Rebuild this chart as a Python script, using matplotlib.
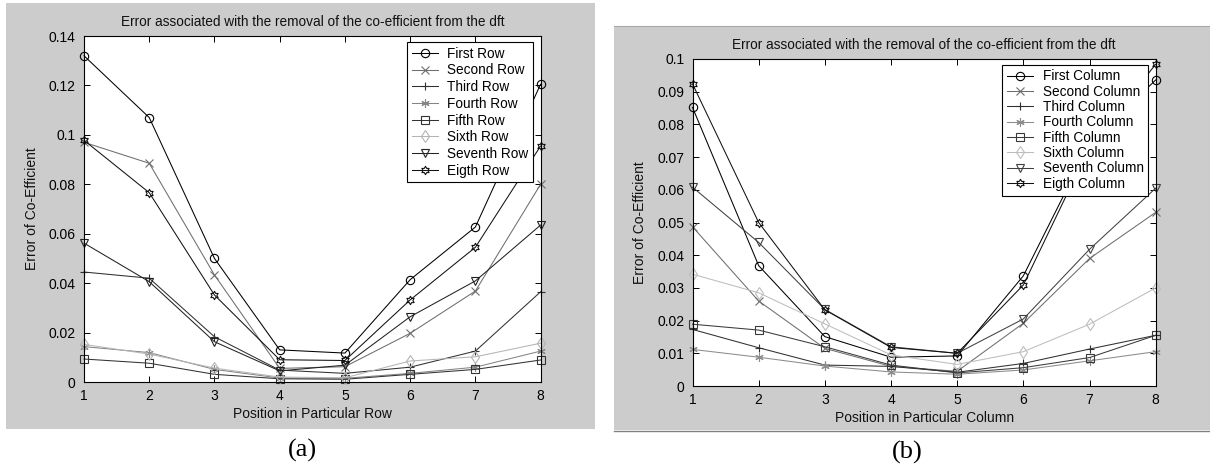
import numpy as np
import matplotlib
matplotlib.use('Agg')
import matplotlib.pyplot as plt
from matplotlib.patches import Rectangle
from matplotlib.lines import Line2D
from matplotlib.path import Path

positions = [1, 2, 3, 4, 5, 6, 7, 8]

# (a) rows
row_labels = ['First Row', 'Second Row', 'Third Row', 'Fourth Row',
              'Fifth Row', 'Sixth Row', 'Seventh Row', 'Eigth Row']
first_row = [0.132, 0.107, 0.050, 0.0130, 0.0117, 0.0414, 0.0627, 0.1205]
second_row = [0.0970, 0.0885, 0.0433, 0.0055, 0.0062, 0.0197, 0.0368, 0.0800]
third_row = [0.0445, 0.0420, 0.0183, 0.0048, 0.0035, 0.0060, 0.0125, 0.0365]
fourth_row = [0.0143, 0.0119, 0.0051, 0.0016, 0.0015, 0.0035, 0.0060, 0.0125]
fifth_row = [0.0093, 0.0076, 0.0031, 0.0013, 0.0011, 0.0031, 0.0051, 0.0089]
sixth_row = [0.0152, 0.0113, 0.0056, 0.0020, 0.0017, 0.0085, 0.0102, 0.0157]
seventh_row = [0.0562, 0.0406, 0.0163, 0.0045, 0.0068, 0.0264, 0.0409, 0.0635]
eighth_row = [0.0978, 0.0766, 0.0352, 0.0090, 0.0087, 0.0332, 0.0545, 0.0955]
rows = [first_row, second_row, third_row, fourth_row,
        fifth_row, sixth_row, seventh_row, eighth_row]

# (b) columns
col_labels = ['First Column', 'Second Column', 'Third Column', 'Fourth Column',
              'Fifth Column', 'Sixth Column', 'Seventh Column', 'Eigth Column']
first_col = [0.0852, 0.0368, 0.0151, 0.0088, 0.0092, 0.0337, 0.0740, 0.0936]
second_col = [0.0487, 0.0260, 0.0115, 0.0060, 0.0045, 0.0192, 0.0390, 0.0531]
third_col = [0.0173, 0.0117, 0.0064, 0.0060, 0.0042, 0.0069, 0.0113, 0.0155]
fourth_col = [0.0112, 0.0088, 0.0061, 0.0043, 0.0036, 0.0049, 0.0077, 0.0105]
fifth_col = [0.0189, 0.0171, 0.0120, 0.0064, 0.0040, 0.0056, 0.0087, 0.0155]
sixth_col = [0.0342, 0.0285, 0.0190, 0.0095, 0.0066, 0.0105, 0.0189, 0.0300]
seventh_col = [0.0608, 0.0439, 0.0234, 0.0120, 0.0100, 0.0205, 0.0418, 0.0605]
eighth_col = [0.0924, 0.0500, 0.0233, 0.0118, 0.0100, 0.0309, 0.0730, 0.0984]
cols = [first_col, second_col, third_col, fourth_col,
        fifth_col, sixth_col, seventh_col, eighth_col]

hexagram = Path.unit_regular_star(6, 0.577)
markers = ['o', 'x', '+', (6, 2, 0), 's', 'd', 'v', hexagram]
colors_a = ['#000000', '#6e6e6e', '#303030', '#858585',
            '#333333', '#b4b4b4', '#222222', '#111111']
colors_b = ['#000000', '#6e6e6e', '#303030', '#8c8c8c',
            '#3a3a3a', '#bdbdbd', '#404040', '#111111']

plt.rcParams['font.family'] = ['Liberation Sans', 'DejaVu Sans']

W, H = 1210, 470
fig = plt.figure(figsize=(12.1, 4.7), dpi=100)
fig.patch.set_facecolor('white')

# gray figure panels
fig.patches.append(Rectangle((6/W, 1 - 429/H), 589/W, 426/H,
                             transform=fig.transFigure, facecolor='#cccccc',
                             edgecolor='none', zorder=-10))
fig.patches.append(Rectangle((614/W, 1 - 430/H), 596/W, 404/H,
                             transform=fig.transFigure, facecolor='#cccccc',
                             edgecolor='none', zorder=-10))
fig.lines.append(Line2D([614/W, 1], [1 - 26/H, 1 - 26/H], transform=fig.transFigure,
                        color='#a8a8a8', lw=0.8))
fig.lines.append(Line2D([614/W, 1], [1 - 430.5/H, 1 - 430.5/H], transform=fig.transFigure,
                        color='#808080', lw=1.0))

ax_a = fig.add_axes([84/W, 1 - 382/H, 456.6/W, 346/H])
ax_b = fig.add_axes([692.5/W, 1 - 386/H, 463.2/W, 327/H])


def draw(ax, data, labels, colors, ymax, ystep, xlabel, title, spacing):
    for vals, lab, m, c in zip(data, labels, markers, colors):
        ax.plot(positions, vals, color=c, marker=m, mfc='none', mec=c,
                ms=6, lw=0.75, mew=0.8, label=lab, clip_on=False)
    ax.set_xlim(1, 8)
    ax.set_ylim(0, ymax)
    ax.set_xticks(positions)
    yt = np.round(np.arange(0, ymax + ystep / 2, ystep), 4)
    ax.set_yticks(yt, labels=[f'{t:g}' for t in yt])
    ax.tick_params(direction='in', top=True, right=True, length=4,
                   width=0.7, labelsize=10, pad=5, colors='black')
    ax.tick_params(axis='y', pad=6)
    for s in ax.spines.values():
        s.set_linewidth(0.8)
    ax.set_xlabel(xlabel, fontsize=10, labelpad=3, color='#111111')
    ax.set_ylabel('Error of Co-Efficient', fontsize=10, labelpad=7,
                  color='#111111')
    ax.set_title(title, fontsize=9.8, pad=7, color='#111111')
    leg = ax.legend(loc='upper right', bbox_to_anchor=(0.984, 0.983),
                    borderaxespad=0, fontsize=9.8, handlelength=1.9,
                    handletextpad=0.7, labelspacing=spacing, borderpad=0.35,
                    fancybox=False, framealpha=1, edgecolor='black')
    leg.get_frame().set_linewidth(0.8)


title = 'Error associated with the removal of the co-efficient from the dft'
draw(ax_a, rows, row_labels, colors_a, 0.14, 0.02,
     'Position in Particular Row', title, 0.2)
draw(ax_b, cols, col_labels, colors_b, 0.1, 0.01,
     'Position in Particular Column', title, 0.1)

fig.text(302/W, 1 - 450/H, '(a)', ha='center', va='center',
         fontsize=19, family='Liberation Serif')
fig.text(907/W, 1 - 452/H, '(b)', ha='center', va='center',
         fontsize=19, family='Liberation Serif')

fig.savefig('out.png', dpi=100, facecolor='white')
